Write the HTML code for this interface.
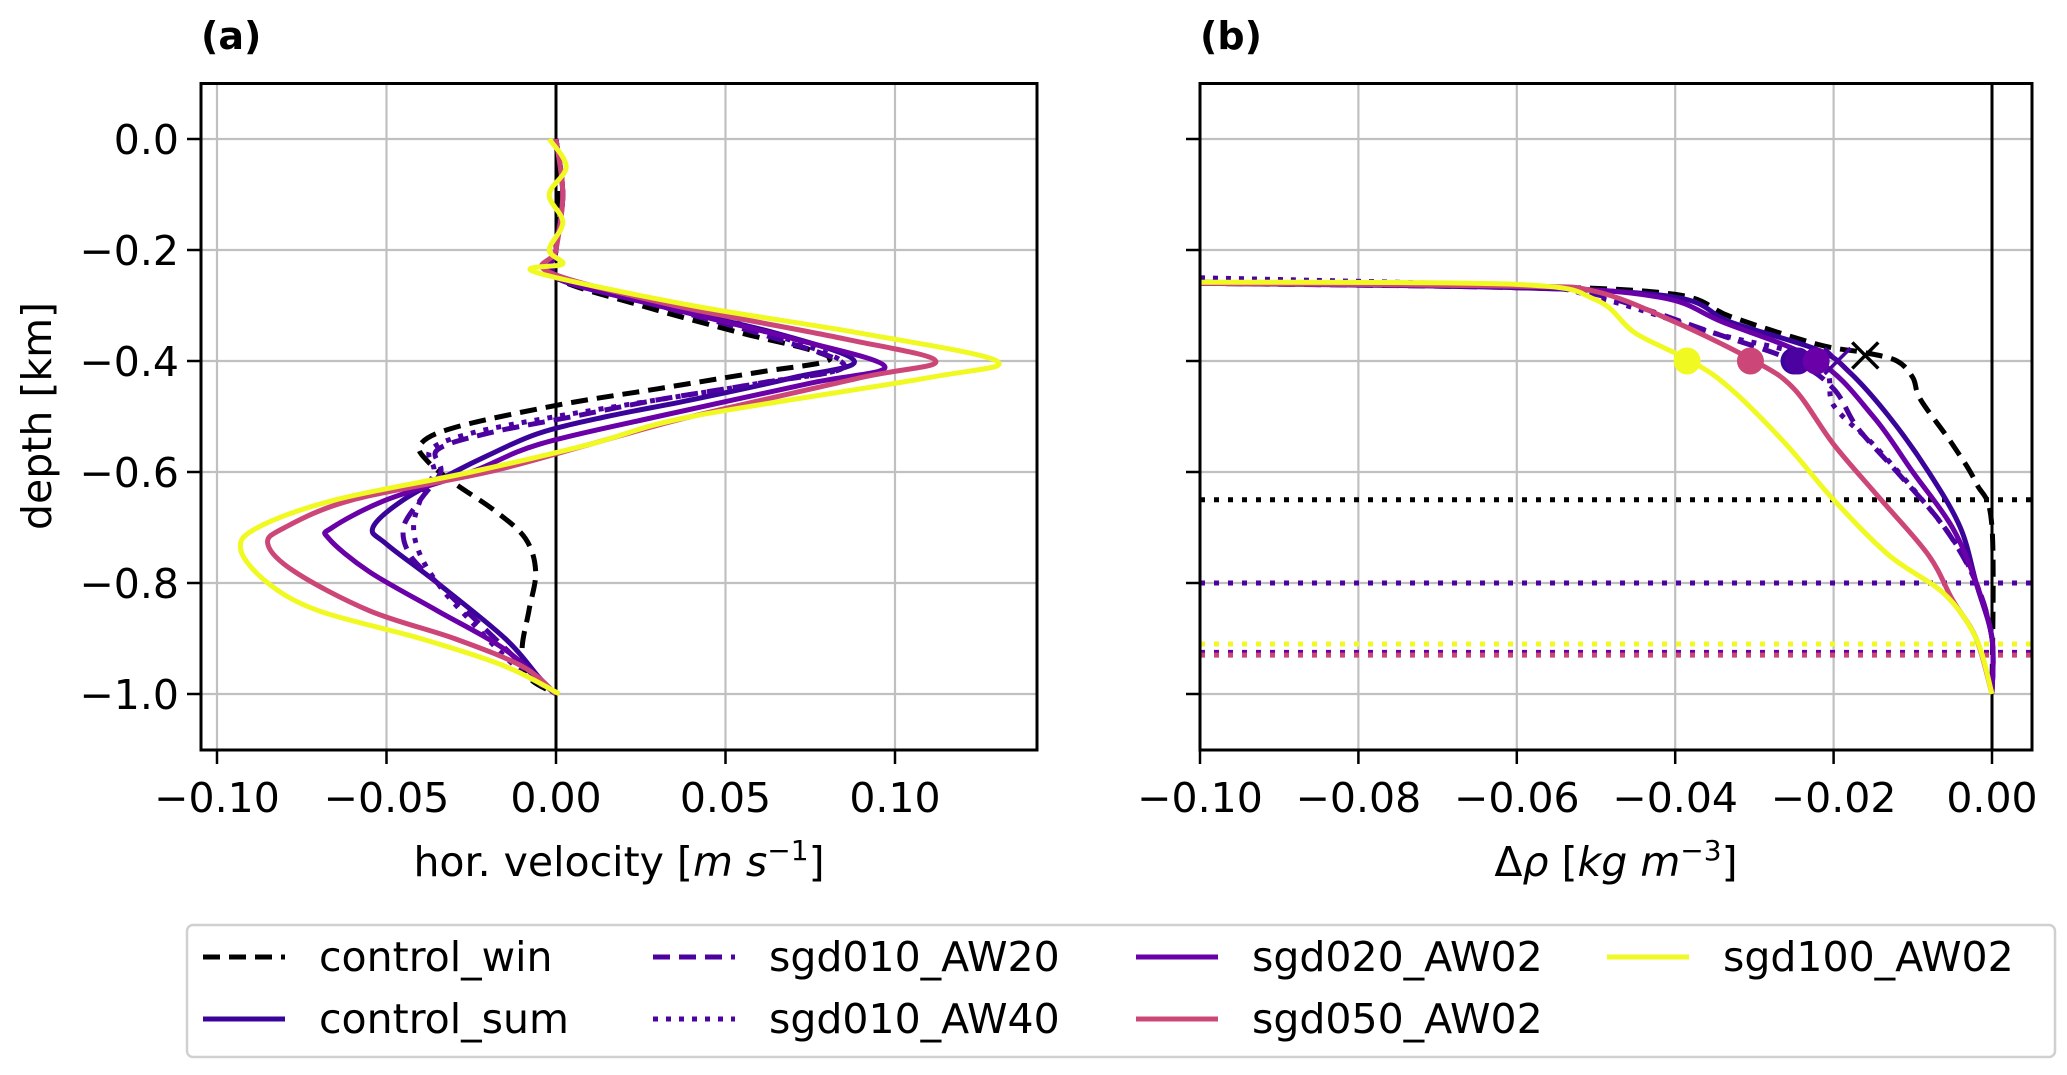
<!DOCTYPE html>
<html><head><meta charset="utf-8"><style>
html,body{margin:0;padding:0;background:#fff;}
svg{display:block;font-family:"DejaVu Sans","Liberation Sans",sans-serif;}
</style></head><body>
<svg id="chart" width="2067" height="1075" viewBox="0 0 2067 1075" xmlns="http://www.w3.org/2000/svg">
<g id="gridA"></g>
<g id="gridB"></g>
<g id="marksA"></g>
<g id="marksB"></g>
<g id="axesA"></g>
<g id="axesB"></g>
<text x="201" y="49" font-size="38" font-weight="bold">(a)</text>
<text x="1200" y="49" font-size="38" font-weight="bold">(b)</text>
<text x="619" y="876" font-size="41" text-anchor="middle">hor. velocity [<tspan font-style="italic">m s</tspan><tspan font-size="28" dy="-16">−1</tspan><tspan dy="16">]</tspan></text>
<text x="1616" y="876" font-size="41" text-anchor="middle">Δ<tspan font-style="italic">ρ</tspan> [<tspan font-style="italic">kg m</tspan><tspan font-size="28" dy="-16">−3</tspan><tspan dy="16">]</tspan></text>
<text transform="translate(51,416) rotate(-90)" font-size="41" text-anchor="middle">depth [km]</text>
<g id="legend"></g>
</svg>
<script>
const depthTicks=[0.0,-0.2,-0.4,-0.6,-0.8,-1.0];
const depthTickLabels=["0.0","−0.2","−0.4","−0.6","−0.8","−1.0"];
const velTicks=[-0.10,-0.05,0.00,0.05,0.10];
const velTickLabels=["−0.10","−0.05","0.00","0.05","0.10"];
const rhoTicks=[-0.10,-0.08,-0.06,-0.04,-0.02,0.00];
const rhoTickLabels=["−0.10","−0.08","−0.06","−0.04","−0.02","0.00"];
const seriesNames=["control_win","control_sum","sgd010_AW20","sgd010_AW40","sgd020_AW02","sgd050_AW02","sgd100_AW02"];
// panel a: [velocity, depth]
const velControlWin=[[0,0],[0.001,-0.1],[0,-0.2],[0,-0.25],[0.025,-0.3],[0.055,-0.35],[0.075,-0.38],[0.08,-0.4],[0.06,-0.42],[0.03,-0.45],[0,-0.48],[-0.03,-0.52],[-0.04,-0.55],[-0.038,-0.58],[-0.03,-0.62],[-0.018,-0.67],[-0.009,-0.72],[-0.006,-0.78],[-0.008,-0.85],[-0.01,-0.92],[-0.008,-0.97],[0,-1.0]];
const velControlSum=[[0,0],[0.002,-0.1],[0,-0.2],[0,-0.25],[0.03,-0.3],[0.065,-0.35],[0.088,-0.4],[0.07,-0.43],[0.04,-0.47],[0.015,-0.5],[-0.005,-0.53],[-0.02,-0.57],[-0.03,-0.6],[-0.045,-0.65],[-0.054,-0.7],[-0.05,-0.73],[-0.035,-0.8],[-0.015,-0.9],[-0.005,-0.97],[0,-1.0]];
const velAW20=[[0,0],[0.002,-0.1],[0,-0.2],[0,-0.25],[0.03,-0.3],[0.065,-0.36],[0.085,-0.41],[0.06,-0.44],[0.03,-0.47],[0.005,-0.5],[-0.02,-0.53],[-0.035,-0.56],[-0.034,-0.6],[-0.04,-0.65],[-0.045,-0.7],[-0.043,-0.75],[-0.035,-0.8],[-0.018,-0.9],[-0.006,-0.97],[0,-1.0]];
const velAW40=[[0,0],[0.002,-0.1],[0,-0.2],[0.002,-0.25],[0.035,-0.3],[0.068,-0.36],[0.085,-0.41],[0.06,-0.44],[0.03,-0.47],[0.0,-0.5],[-0.025,-0.53],[-0.037,-0.56],[-0.036,-0.6],[-0.04,-0.65],[-0.042,-0.7],[-0.04,-0.75],[-0.035,-0.8],[-0.028,-0.85],[-0.012,-0.95],[0,-1.0]];
const velSgd020=[[0,0],[0.002,-0.1],[0,-0.2],[0,-0.25],[0.03,-0.3],[0.07,-0.36],[0.097,-0.41],[0.075,-0.44],[0.03,-0.5],[-0.005,-0.55],[-0.025,-0.6],[-0.05,-0.65],[-0.066,-0.7],[-0.067,-0.72],[-0.055,-0.78],[-0.035,-0.85],[-0.015,-0.92],[0,-1.0]];
const velSgd050=[[0,0],[0.002,-0.1],[0,-0.2],[-0.002,-0.24],[0.035,-0.3],[0.085,-0.36],[0.112,-0.4],[0.09,-0.43],[0.04,-0.5],[0.01,-0.55],[-0.02,-0.6],[-0.06,-0.65],[-0.08,-0.7],[-0.085,-0.73],[-0.077,-0.78],[-0.055,-0.85],[-0.03,-0.9],[-0.01,-0.95],[0,-1.0]];
const velSgd100=[[-0.002,0],[0.003,-0.05],[-0.002,-0.1],[0.002,-0.15],[-0.002,-0.2],[0.002,-0.225],[-0.006,-0.24],[0.04,-0.3],[0.09,-0.35],[0.13,-0.4],[0.11,-0.43],[0.04,-0.5],[0.01,-0.55],[-0.025,-0.6],[-0.065,-0.65],[-0.088,-0.7],[-0.093,-0.74],[-0.085,-0.8],[-0.07,-0.85],[-0.04,-0.9],[-0.015,-0.95],[0.001,-1.0]];
// panel b: [delta rho, depth]
const rhoControlWin=[[-0.1,-0.258],[-0.06,-0.265],[-0.04,-0.28],[-0.033,-0.32],[-0.022,-0.37],[-0.016,-0.385],[-0.012,-0.4],[-0.01,-0.43],[-0.009,-0.47],[-0.005,-0.55],[-0.002,-0.62],[0,-0.7],[0,-1.0]];
const rhoControlSum=[[-0.1,-0.26],[-0.06,-0.268],[-0.04,-0.285],[-0.033,-0.33],[-0.022,-0.38],[-0.018,-0.42],[-0.013,-0.5],[-0.008,-0.6],[-0.004,-0.7],[-0.002,-0.8],[0,-0.9],[0,-1.0]];
const rhoAW20=[[-0.1,-0.26],[-0.06,-0.268],[-0.05,-0.28],[-0.035,-0.35],[-0.025,-0.4],[-0.02,-0.45],[-0.017,-0.52],[-0.012,-0.6],[-0.006,-0.7],[-0.002,-0.8],[0,-0.9],[0,-1.0]];
const rhoAW40=[[-0.1,-0.25],[-0.06,-0.265],[-0.05,-0.285],[-0.035,-0.35],[-0.022,-0.4],[-0.02,-0.48],[-0.015,-0.55],[-0.01,-0.63],[-0.005,-0.72],[-0.002,-0.8],[0,-0.9],[0,-1.0]];
const rhoSgd020=[[-0.1,-0.26],[-0.06,-0.266],[-0.042,-0.285],[-0.034,-0.33],[-0.022,-0.4],[-0.015,-0.5],[-0.01,-0.6],[-0.005,-0.7],[-0.002,-0.8],[0,-0.9],[0,-1.0]];
const rhoSgd050=[[-0.1,-0.26],[-0.06,-0.265],[-0.05,-0.275],[-0.04,-0.33],[-0.03,-0.4],[-0.025,-0.45],[-0.02,-0.55],[-0.014,-0.65],[-0.008,-0.75],[-0.005,-0.83],[-0.002,-0.9],[0,-1.0]];
const rhoSgd100=[[-0.1,-0.258],[-0.06,-0.262],[-0.05,-0.29],[-0.045,-0.35],[-0.038,-0.4],[-0.033,-0.45],[-0.026,-0.55],[-0.02,-0.65],[-0.013,-0.75],[-0.006,-0.82],[-0.002,-0.9],[0,-1.0]];
const markerDepth=[-0.4,-0.4,-0.4,-0.4,-0.4];
const markerRho=[-0.0385,-0.0305,-0.025,-0.0245,-0.0222];
const xMarkerRho=[-0.016,-0.0195];
const xMarkerDepth=[-0.39,-0.4];
const hlineDepths=[-0.65,-0.80,-0.80,-0.91,-0.925,-0.93];

const C={win:"#000000",sum:"#3a049a",aw20:"#4c02a1",aw40:"#4c02a1",s020:"#6a00a8",s050:"#cc4778",s100:"#f0f921"};
const NS="http://www.w3.org/2000/svg";
function mk(tag,attrs,parent){const e=document.createElementNS(NS,tag);for(const k in attrs)e.setAttribute(k,attrs[k]);parent.appendChild(e);return e;}
const yS=d=>139-d*555;
const xA=v=>556+v*3390;
const xB=r=>1992+r*7920;
const A={l:201,r:1037,t:83.5,b:750};
const B={l:1200,r:2032,t:83.5,b:750};
function pathD(pts,fx){
  const p=pts.map(q=>[fx(q[0]),yS(q[1])]);
  let d="M"+p[0][0].toFixed(1)+","+p[0][1].toFixed(1);
  for(let i=0;i<p.length-1;i++){
    const p0=p[Math.max(i-1,0)],p1=p[i],p2=p[i+1],p3=p[Math.min(i+2,p.length-1)];
    const c1=[p1[0]+(p2[0]-p0[0])/6,p1[1]+(p2[1]-p0[1])/6];
    const c2=[p2[0]-(p3[0]-p1[0])/6,p2[1]-(p3[1]-p1[1])/6];
    d+=" C"+c1[0].toFixed(1)+","+c1[1].toFixed(1)+" "+c2[0].toFixed(1)+","+c2[1].toFixed(1)+" "+p2[0].toFixed(1)+","+p2[1].toFixed(1);
  }
  return d;
}
const gA=document.getElementById('gridA'),gB=document.getElementById('gridB');
const mA=document.getElementById('marksA'),mB=document.getElementById('marksB');
const aA=document.getElementById('axesA'),aB=document.getElementById('axesB');
depthTicks.forEach((t,i)=>{
  let l=mk('line',{x1:A.l,x2:A.r,y1:yS(t),y2:yS(t),stroke:"#c0c0c0","stroke-width":2.2},gA);
  
  l=mk('line',{x1:B.l,x2:B.r,y1:yS(t),y2:yS(t),stroke:"#c0c0c0","stroke-width":2.2},gB);
  
  mk('line',{x1:A.l-14,x2:A.l,y1:yS(t),y2:yS(t),stroke:"#000","stroke-width":2.5},aA);
  mk('line',{x1:B.l-14,x2:B.l,y1:yS(t),y2:yS(t),stroke:"#000","stroke-width":2.5},aB);
  const tx=mk('text',{x:A.l-22,y:yS(t)+15,"font-size":41,"text-anchor":"end"},aA);
  tx.textContent=depthTickLabels[i];
  
});
velTicks.forEach((t,i)=>{
  const l=mk('line',{x1:xA(t),x2:xA(t),y1:A.t,y2:A.b,stroke:"#c0c0c0","stroke-width":2.2},gA);
  
  mk('line',{x1:xA(t),x2:xA(t),y1:A.b,y2:A.b+14,stroke:"#000","stroke-width":2.5},aA);
  const tx=mk('text',{x:xA(t),y:812,"font-size":41,"text-anchor":"middle"},aA);
  tx.textContent=velTickLabels[i];
  
});
rhoTicks.forEach((t,i)=>{
  const l=mk('line',{x1:xB(t),x2:xB(t),y1:B.t,y2:B.b,stroke:"#c0c0c0","stroke-width":2.2},gB);
  
  mk('line',{x1:xB(t),x2:xB(t),y1:B.b,y2:B.b+14,stroke:"#000","stroke-width":2.5},aB);
  const tx=mk('text',{x:xB(t),y:812,"font-size":41,"text-anchor":"middle"},aB);
  tx.textContent=rhoTickLabels[i];
  
});
let z=mk('line',{x1:xA(0),x2:xA(0),y1:A.t,y2:A.b,stroke:"#000","stroke-width":3},mA);

z=mk('line',{x1:xB(0),x2:xB(0),y1:B.t,y2:B.b,stroke:"#000","stroke-width":3},mB);

const hlColors=[C.win,C.sum,C.aw20,C.s100,C.s020,C.s050];
hlineDepths.forEach((d,i)=>{
  const l=mk('line',{x1:B.l,x2:B.r,y1:yS(d),y2:yS(d),stroke:hlColors[i],"stroke-width":5,"stroke-dasharray":"5 9"},mB);
  
});
const styles=[[C.win,"17 9"],[C.sum,""],[C.aw20,"17 9"],[C.aw40,"5 8"],[C.s020,""],[C.s050,""],[C.s100,""]];
const velSets=[velControlWin,velControlSum,velAW20,velAW40,velSgd020,velSgd050,velSgd100];
const rhoSets=[rhoControlWin,rhoControlSum,rhoAW20,rhoAW40,rhoSgd020,rhoSgd050,rhoSgd100];
velSets.forEach((s,i)=>{
  const p=mk('path',{d:pathD(s,xA),fill:"none",stroke:styles[i][0],"stroke-width":5,"stroke-dasharray":styles[i][1]||"none"},mA);
  
});
rhoSets.forEach((s,i)=>{
  const p=mk('path',{d:pathD(s,xB),fill:"none",stroke:styles[i][0],"stroke-width":5,"stroke-dasharray":styles[i][1]||"none"},mB);
  
});
const mColors=[C.s100,C.s050,C.sum,C.aw20,C.s020];
markerRho.forEach((r,i)=>{
  const c=mk('circle',{cx:xB(r),cy:yS(markerDepth[i]),r:13.5,fill:mColors[i]},mB);
  
});
const xColors=[C.win,C.aw40];
xMarkerRho.forEach((r,i)=>{
  const cx=xB(r),cy=yS(xMarkerDepth[i]),s=13;
  const g=mk('path',{d:`M${cx-s},${cy-s}L${cx+s},${cy+s}M${cx-s},${cy+s}L${cx+s},${cy-s}`,stroke:xColors[i],"stroke-width":3.5,fill:"none"},mB);
  
});
[[A,aA],[B,aB]].forEach(([R,g])=>{
  const f=mk('rect',{x:R.l,y:R.t,width:R.r-R.l,height:R.b-R.t,fill:"none",stroke:"#000","stroke-width":3},g);
  
});
const lg=document.getElementById('legend');
const box=mk('rect',{x:187,y:925,width:1868,height:132,rx:6,fill:"#fff",stroke:"#d0d0d0","stroke-width":2.5},lg);

const colX=[203,653,1136,1607];
const rowY=[957,1019];
const order=[[0,0,0],[1,0,1],[2,1,0],[3,1,1],[4,2,0],[5,2,1],[6,3,0]];
order.forEach(([si,c,r])=>{
  const x=colX[c],y=rowY[r];
  const l=mk('line',{x1:x,x2:x+82,y1:y,y2:y,stroke:styles[si][0],"stroke-width":5,"stroke-dasharray":styles[si][1]||"none"},lg);
  
  const t=mk('text',{x:x+116,y:y+14,"font-size":41},lg);
  t.textContent=seriesNames[si];
  
});
</script>
</body></html>
